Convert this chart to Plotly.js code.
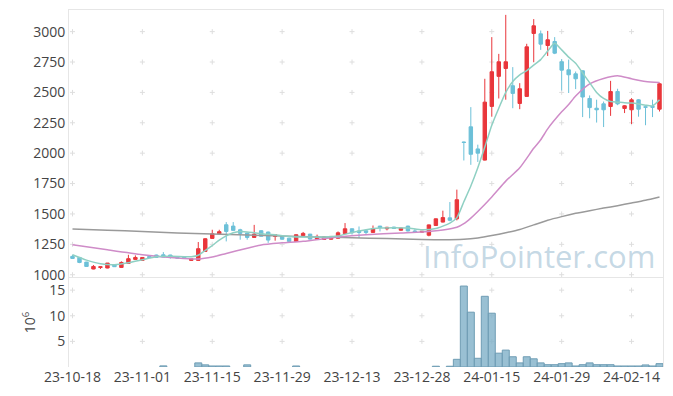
<!DOCTYPE html>
<html><head><meta charset="utf-8">
<script src="https://cdn.plot.ly/plotly-3.0.1.min.js"></script>
<style>html,body{margin:0;padding:0;background:#fff}#chart{width:673px;height:396px}</style>
</head><body><div id="chart"></div>
<script>
const dates = [
'2023-10-18','2023-10-19','2023-10-20','2023-10-23','2023-10-24','2023-10-25','2023-10-26','2023-10-27','2023-10-30','2023-10-31',
'2023-11-01','2023-11-02','2023-11-03','2023-11-06','2023-11-07','2023-11-08','2023-11-09','2023-11-10','2023-11-13','2023-11-14',
'2023-11-15','2023-11-16','2023-11-17','2023-11-20','2023-11-21','2023-11-22','2023-11-23','2023-11-24','2023-11-27','2023-11-28',
'2023-11-29','2023-11-30','2023-12-01','2023-12-04','2023-12-05','2023-12-06','2023-12-07','2023-12-08','2023-12-11','2023-12-12',
'2023-12-13','2023-12-14','2023-12-15','2023-12-18','2023-12-19','2023-12-20','2023-12-21','2023-12-22','2023-12-26','2023-12-27',
'2023-12-28','2024-01-02','2024-01-03','2024-01-04','2024-01-05','2024-01-08','2024-01-09','2024-01-10','2024-01-11','2024-01-12',
'2024-01-15','2024-01-16','2024-01-17','2024-01-18','2024-01-19','2024-01-22','2024-01-23','2024-01-24','2024-01-25','2024-01-26',
'2024-01-29','2024-01-30','2024-01-31','2024-02-01','2024-02-02','2024-02-05','2024-02-06','2024-02-07','2024-02-08','2024-02-13',
'2024-02-14','2024-02-15','2024-02-16','2024-02-19','2024-02-20'];

const open = [1151,1142,1104,1047,1060,1055,1082,1060,1093,1126,
1118,1150,1162,1164,1162,1145,1145,1118,1118,1192,
1299,1337,1411,1400,1370,1343,1307,1362,1351,1315,
1315,1301,1274,1322,1334,1290,1290,1292,1300,1338,
1378,1360,1362,1348,1400,1378,1392,1366,1400,1360,
1350,1325,1405,1433,1468,1460,2092,2217,2035,1943,
2385,2632,2697,2555,2409,2467,2985,2982,2886,2919,
2752,2686,2653,2678,2450,2370,2406,2384,2507,2368,
2357,2439,2382,2385,2362];
const high = [1164,1146,1106,1080,1066,1096,1084,1110,1164,1159,
1145,1155,1165,1186,1164,1148,1150,1134,1269,1300,
1370,1370,1433,1433,1378,1346,1410,1366,1355,1331,
1318,1304,1332,1352,1336,1330,1314,1318,1356,1425,
1380,1397,1364,1405,1402,1394,1394,1386,1403,1375,
1358,1413,1462,1527,1598,1700,2095,2379,2070,2612,
2955,2817,3138,2708,2576,2900,3103,3009,3006,2955,
2774,2770,2672,2680,2475,2440,2425,2595,2530,2395,
2453,2445,2384,2440,2580];
const low = [1130,1095,1066,1045,1047,1053,1064,1055,1090,1124,
1116,1138,1140,1143,1132,1135,1138,1115,1115,1190,
1297,1335,1274,1362,1288,1288,1305,1314,1262,1280,
1288,1272,1272,1320,1290,1288,1288,1290,1298,1336,
1330,1302,1326,1346,1356,1365,1378,1362,1356,1348,
1346,1316,1403,1430,1440,1447,1940,1904,1928,1940,
2300,2450,2440,2370,2362,2465,2748,2850,2800,2815,
2516,2495,2527,2297,2287,2252,2215,2307,2395,2330,
2240,2300,2230,2297,2343];
const close = [1134,1101,1068,1068,1065,1096,1066,1101,1132,1142,
1142,1140,1142,1145,1151,1137,1140,1132,1214,1296,
1337,1354,1356,1365,1340,1307,1334,1316,1285,1329,
1292,1274,1329,1340,1293,1315,1312,1315,1345,1378,
1345,1347,1348,1378,1388,1390,1381,1384,1360,1351,
1357,1410,1460,1470,1448,1617,2088,1991,2000,2420,
2670,2752,2752,2492,2530,2875,3048,2897,2933,2823,
2683,2645,2612,2462,2375,2357,2357,2507,2406,2390,
2439,2362,2378,2378,2571];
// volume in millions of shares (null = too small to see)
const volume = [null,null,null,null,null,null,null,null,null,null,
null,null,null,0.22,null,null,null,null,0.8,0.42,
0.2,0.2,0.2,null,null,0.42,null,null,null,null,
null,null,0.2,null,null,null,null,null,null,null,
null,null,null,null,null,null,null,null,null,null,
null,null,0.15,null,0.15,1.5,15.8,10.7,1.7,13.8,
10.5,2.7,3.3,2.0,0.8,2.0,1.6,0.8,0.45,0.45,
0.65,0.8,0.2,0.45,0.8,0.45,0.45,0.45,0.2,0.2,
0.2,0.2,0.4,0.2,0.65];

const ma5Idx = [0,2,4,6,8,10,12,14,16,17,18,19,20,21,22,23,24,25,26,27,28,29,30,32,34,36,38,40,42,44,46,48,50,52,53,54,55,56,57,58,59,60,61,62,63,64,65,66,67,68,69,70,71,72,73,74,75,76,77,78,79,80,81,82,83,84];
const ma5 = [1164,1120,1090,1082,1098,1123,1148,1151,1148,1148,1160,1200,1240,1285,1320,1345,1355,1352,1345,1338,1332,1329,1320,1310,1310,1310,1318,1348,1370,1384,1386,1384,1370,1380,1400,1425,1470,1600,1730,1880,2050,2230,2370,2500,2590,2645,2680,2725,2770,2840,2905,2850,2790,2740,2660,2580,2500,2450,2425,2420,2415,2412,2405,2395,2390,2440];
const ma20Idx = [0,5,10,15,18,20,22,25,27,30,33,38,42,47,50,53,55,56,57,58,60,62,64,66,67,68,70,71,72,74,76,78,80,82,84];
const ma20 = [1247,1205,1165,1137,1129,1145,1175,1218,1245,1262,1275,1310,1329,1343,1351,1368,1390,1420,1466,1520,1640,1770,1880,2040,2110,2200,2340,2400,2470,2570,2615,2637,2612,2590,2581];
const maLongIdx = [0,5,10,15,20,25,30,35,40,45,50,53,56,58,60,62,64,66,68,70,72,74,76,78,80,82,84];
const maLong = [1376,1366,1356,1343,1334,1326,1318,1311,1304,1297,1290,1288,1292,1303,1322,1345,1372,1410,1448,1478,1505,1527,1548,1568,1590,1613,1640];

const priceTicks = [1000,1250,1500,1750,2000,2250,2500,2750,3000];
const volTicks = [5,10,15];

const xTickIdx = dates.map((d,i)=>i).filter(i=>i%10===0);
const xTickVals = xTickIdx.map(i=>dates[i]);
const xTickText = xTickVals.map(d=>d.slice(2));

// grid drawn as small "+" marks at tick intersections, behind the data
const shapes = [];
const addCrosses = (ys, xr, yr) => {
  xTickIdx.forEach(xi => ys.forEach(yv => {
    const base = {type:'line',xref:xr,yref:yr,layer:'below',line:{color:'#dedede',width:1}};
    shapes.push(Object.assign({}, base, {xsizemode:'pixel',xanchor:xi,x0:-2.5,x1:2.5,y0:yv,y1:yv}));
    shapes.push(Object.assign({}, base, {ysizemode:'pixel',yanchor:yv,y0:-2.5,y1:2.5,x0:xi,x1:xi}));
  }));
};
addCrosses(priceTicks, 'x', 'y');
addCrosses(volTicks, 'x2', 'y2');

const UP='#e9363b', DOWN='#6cc0d8';
const traces = [
  {type:'scatter',mode:'lines',x:maLongIdx.map(i=>dates[i]),y:maLong,xaxis:'x',yaxis:'y',
   line:{color:'#9a9a9a',width:1.5,shape:'spline',smoothing:0.6}},
  {type:'scatter',mode:'lines',x:ma20Idx.map(i=>dates[i]),y:ma20,xaxis:'x',yaxis:'y',
   line:{color:'#cf8cc8',width:1.5,shape:'spline',smoothing:0.6}},
  {type:'scatter',mode:'lines',x:ma5Idx.map(i=>dates[i]),y:ma5,xaxis:'x',yaxis:'y',
   line:{color:'#8fd0c3',width:1.5,shape:'spline',smoothing:0.6}},
  {type:'candlestick',x:dates,open:open,high:high,low:low,close:close,xaxis:'x',yaxis:'y',
   increasing:{line:{color:UP,width:1},fillcolor:UP},
   decreasing:{line:{color:DOWN,width:1},fillcolor:DOWN},whiskerwidth:0},
  {type:'bar',x:dates,y:volume,xaxis:'x2',yaxis:'y2',
   marker:{color:'rgba(128,176,200,0.8)',line:{color:'#6f9db4',width:1}}}
];

const font = {family:'Open Sans, sans-serif', size:14, color:'#444'};
const layout = {
  width:673, height:396, showlegend:false,
  margin:{l:69,r:10,t:10,b:29},
  paper_bgcolor:'#fff', plot_bgcolor:'#fff', font:font, bargap:0,
  shapes:shapes,
  xaxis:{type:'category',categoryorder:'array',categoryarray:dates,range:[-0.5,84.5],
    domain:[0,1],anchor:'y',showticklabels:false,showgrid:false,zeroline:false,
    showline:true,mirror:true,linecolor:'#e6e6e6',linewidth:1,ticks:'',
    rangeslider:{visible:false},tickvals:xTickVals},
  yaxis:{domain:[0.251,1],anchor:'x',range:[978,3178],tickvals:priceTicks,
    showgrid:false,zeroline:false,showline:true,mirror:true,linecolor:'#e6e6e6',ticks:'',
    tickfont:font},
  xaxis2:{type:'category',categoryorder:'array',categoryarray:dates,range:[-0.5,84.5],
    domain:[0,1],anchor:'y2',matches:'x',tickvals:xTickVals,ticktext:xTickText,
    showgrid:false,zeroline:false,showline:false,ticks:'',
    tickfont:font,rangeslider:{visible:false}},
  yaxis2:{domain:[0,0.249],anchor:'x2',range:[0,17.35],tickvals:volTicks,
    showgrid:false,zeroline:false,showline:true,mirror:true,linecolor:'#e6e6e6',ticks:'',
    tickfont:font,title:{text:'10<sup>6</sup>',font:font,standoff:10}},
  annotations:[{text:'InfoPointer.com',xref:'paper',yref:'paper',x:0.99,y:0.311,
    xanchor:'right',yanchor:'middle',showarrow:false,
    font:{family:'Open Sans, sans-serif',size:31,color:'rgba(165,195,214,0.65)'}}]
};
Plotly.newPlot('chart', traces, layout, {staticPlot:true, displayModeBar:false});
</script>
</body></html>
